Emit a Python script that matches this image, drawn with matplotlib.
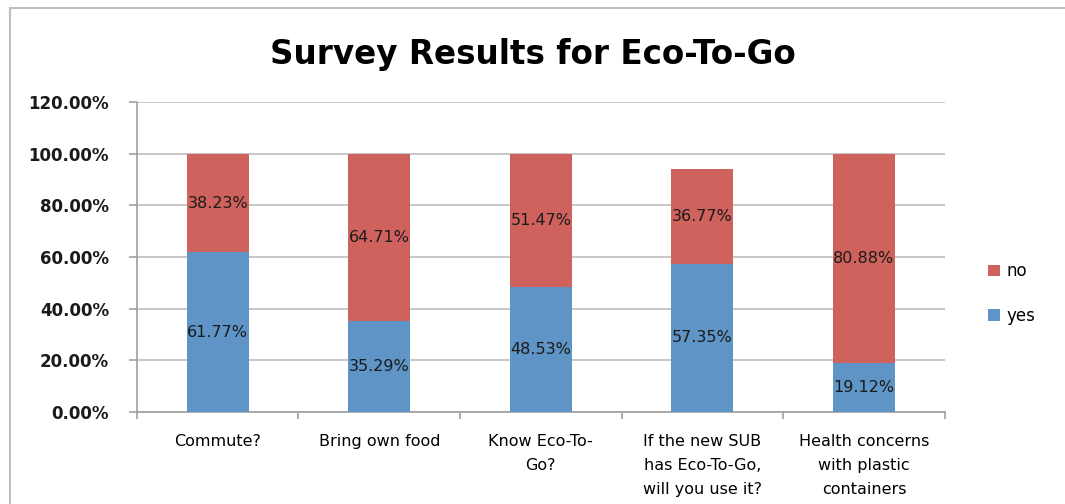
import matplotlib.pyplot as plt
from matplotlib.patches import Rectangle
from matplotlib.ticker import FuncFormatter, MultipleLocator
import numpy as np

categories = ["Commute?", "Bring own food", "Know Eco-To-\nGo?",
              "If the new SUB\nhas Eco-To-Go,\nwill you use it?",
              "Health concerns\nwith plastic\ncontainers"]
yes_vals = [61.77, 35.29, 48.53, 57.35, 19.12]
no_vals = [38.23, 64.71, 51.47, 36.77, 80.88]

blue = "#5E95C6"
red = "#D0625E"

plt.rcParams['font.family'] = ['DejaVu Sans']

fig = plt.figure(figsize=(10.65, 5.04), dpi=100)
ax = fig.add_axes([0.1286, 0.1825, 0.7584, 0.615])

x = np.arange(len(categories))
width = 0.385
b1 = ax.bar(x, yes_vals, width, color=blue, label="yes", zorder=3)
b2 = ax.bar(x, no_vals, width, bottom=yes_vals, color=red, label="no", zorder=3)

# data labels in the middle of each segment
for i in range(len(categories)):
    ax.text(x[i], yes_vals[i] / 2, f"{yes_vals[i]:.2f}%", ha="center", va="center",
            fontsize=11.5, color="#1a1a1a", zorder=4)
    ax.text(x[i], yes_vals[i] + no_vals[i] / 2, f"{no_vals[i]:.2f}%", ha="center",
            va="center", fontsize=11.5, color="#1a1a1a", zorder=4)

ax.set_xlim(-0.5, len(categories) - 0.5)
ax.set_ylim(0, 120)
ax.yaxis.set_major_locator(MultipleLocator(20))
ax.yaxis.set_major_formatter(FuncFormatter(lambda v, p: f"{v:.2f}%"))
ax.grid(axis="y", color="#BDBDBD", linewidth=1.2, zorder=0)

ax.set_xticks(np.arange(-0.5, len(categories), 1.0))
ax.set_xticklabels([])
ax.set_xticks(x, minor=True)
ax.set_xticklabels(categories, minor=True, fontsize=11.5, linespacing=1.75)
ax.tick_params(axis="x", which="minor", length=0, pad=16)
ax.tick_params(axis="x", which="major", length=5, color="#A0A0A0", width=1.2)
ax.tick_params(axis="y", length=6, color="#A0A0A0", width=1.2, labelsize=12, pad=14)
for lbl in ax.get_yticklabels():
    lbl.set_fontweight("bold")
    lbl.set_color("#1a1a1a")

for s in ["top", "right"]:
    ax.spines[s].set_visible(False)
for s in ["left", "bottom"]:
    ax.spines[s].set_color("#A0A0A0")
    ax.spines[s].set_linewidth(1.2)

handles = [b2, b1]
ax.legend(handles, ["no", "yes"], loc="center left", bbox_to_anchor=(1.035, 0.382),
          frameon=False, fontsize=12, handlelength=0.7, handleheight=0.7,
          labelspacing=1.6, handletextpad=0.4)

fig.text(0.5, 0.891, "Survey Results for Eco-To-Go", ha="center", va="center",
         fontsize=23.5, fontweight="bold")

# chart area border
fig.patches.append(Rectangle((10 / 1065, -0.1), 1.2, (504 - 8) / 504 + 0.1,
                             transform=fig.transFigure, fill=False,
                             edgecolor="#BFBFBF", linewidth=1.5))

fig.savefig("out.png", dpi=100)
